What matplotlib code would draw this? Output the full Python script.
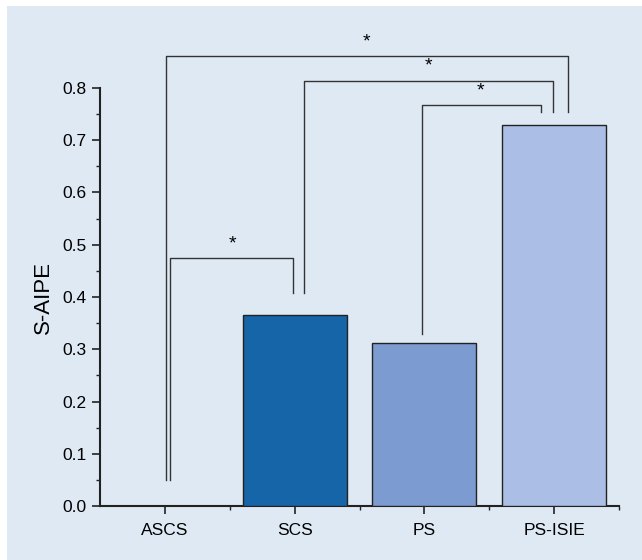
import matplotlib
matplotlib.use('Agg')
import matplotlib.pyplot as plt
from matplotlib.patches import Rectangle
from matplotlib.ticker import MultipleLocator, FixedLocator

# данни
categories = ['ASCS', 'SCS', 'PS', 'PS-ISIE']
values = [0.0, 0.366, 0.312, 0.730]
colors = ['#1565a8', '#1665a9', '#7c9bd0', '#abbee5']

# скоби за значимост: (ляв x, десен x, горна височина, долен край вляво, долен край вдясно)
brackets = [
    (1.04, 1.99, 0.475, 0.05, 0.408),
    (1.005, 4.105, 0.861, 0.05, 0.754),
    (2.07, 3.995, 0.813, 0.408, 0.754),
    (2.98, 3.895, 0.767, 0.329, 0.754),
]
star_y = [0.502, 0.889, 0.842, 0.795]
star_x = [1.52, 2.55, 3.03, 3.43]

plt.rcParams['font.family'] = ['Liberation Sans', 'DejaVu Sans']

fig = plt.figure(figsize=(6.42, 5.6), dpi=100, facecolor='white')
fig.patches.append(Rectangle((7 / 642, 0), 1, 1 - 6 / 560, transform=fig.transFigure,
                             facecolor='#dfe9f4', edgecolor='none', zorder=-10))

ax = fig.add_axes([100 / 642, 1 - 506 / 560, 519 / 642, 418 / 560])
ax.patch.set_alpha(0)

x = list(range(1, len(categories) + 1))
ax.bar(x, values, width=0.8, color=colors, edgecolor='#222222', linewidth=1.0, zorder=3)

for (x1, x2, top, b1, b2) in brackets:
    ax.plot([x1, x1, x2, x2], [b1, top, top, b2], color='#333333', lw=1.0,
            clip_on=False, zorder=2)
for sx, sy in zip(star_x, star_y):
    ax.text(sx, sy, '*', ha='center', va='center', fontsize=14, clip_on=False)

ax.set_xlim(0.5, 4.5)
ax.set_ylim(0, 0.8)
ax.set_xticks(x)
ax.set_xticklabels(categories)
ax.xaxis.set_minor_locator(FixedLocator([1.5, 2.5, 3.5, 4.5]))
ax.yaxis.set_major_locator(MultipleLocator(0.1))
ax.yaxis.set_minor_locator(MultipleLocator(0.05))
ax.set_yticklabels([f'{v:.1f}' for v in ax.get_yticks()])
ax.set_ylabel('S-AIPE', fontsize=16, labelpad=6)

ax.tick_params(axis='both', which='major', direction='out', length=6, width=1.2,
               labelsize=12.5, color='#222222')
ax.tick_params(axis='both', which='minor', direction='out', length=3, width=1.0,
               color='#222222')
ax.tick_params(axis='x', which='major', pad=6)
ax.spines['top'].set_visible(False)
ax.spines['right'].set_visible(False)
ax.spines['left'].set_linewidth(1.5)
ax.spines['bottom'].set_linewidth(1.5)
ax.spines['left'].set_color('#222222')
ax.spines['bottom'].set_color('#222222')

fig.savefig('out.png', dpi=100, facecolor='white')
